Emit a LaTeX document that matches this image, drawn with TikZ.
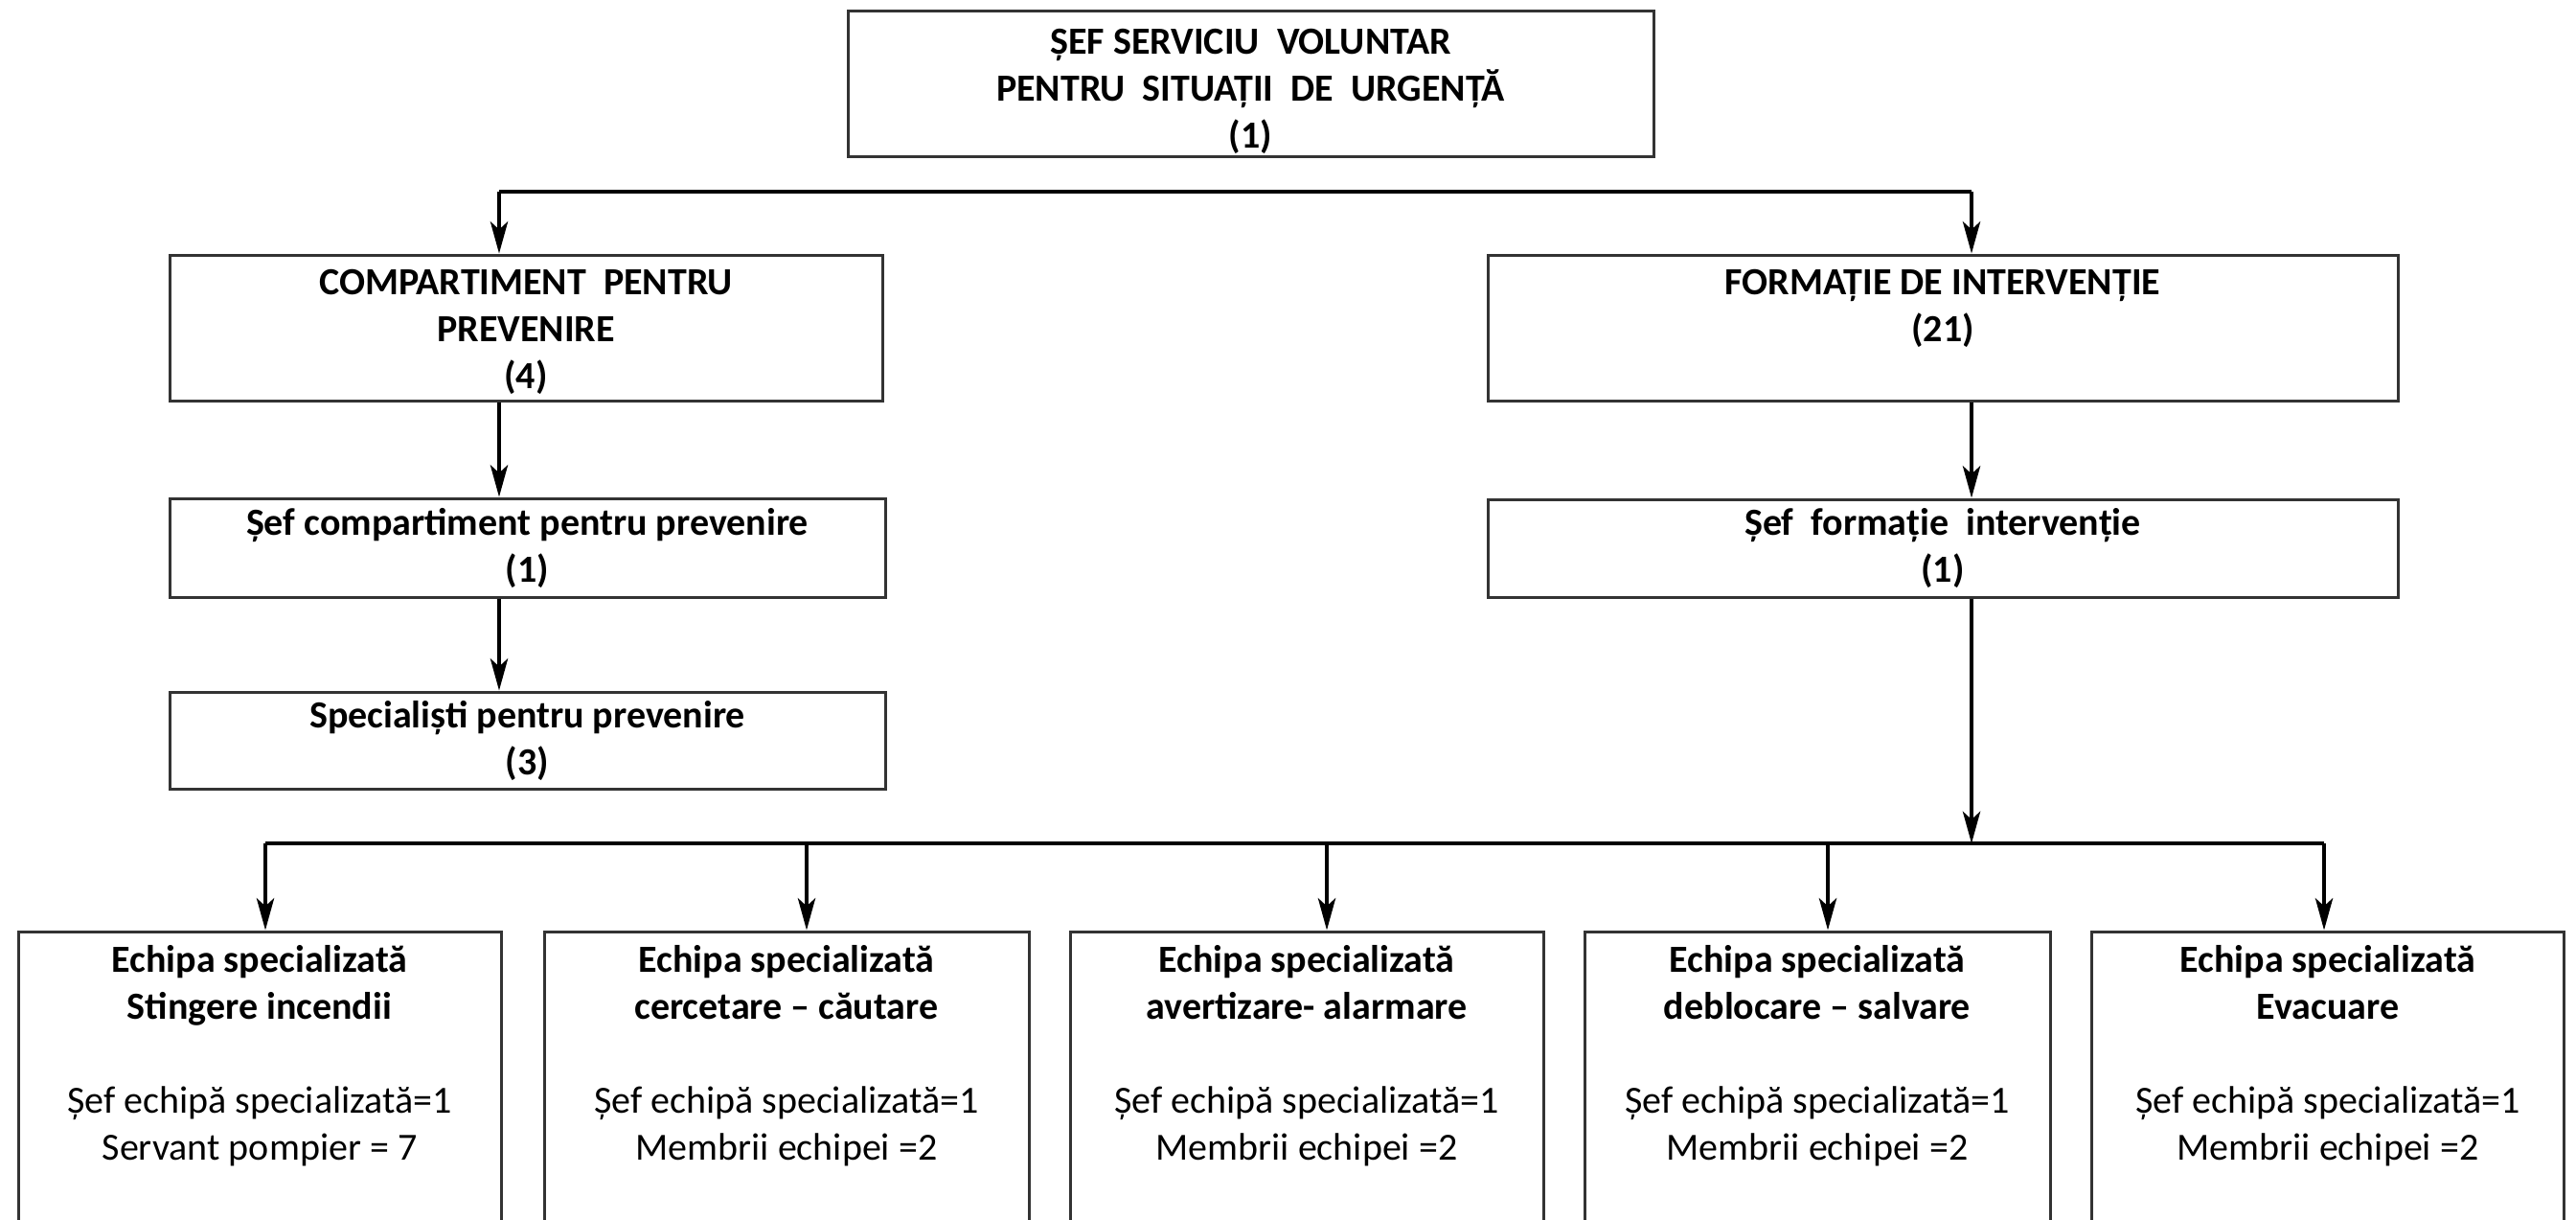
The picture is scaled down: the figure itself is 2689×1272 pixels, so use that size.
\documentclass[tikz,border=0pt]{standalone}
\usepackage{fontspec}
\setmainfont{Carlito}
\usetikzlibrary{arrows.meta,fit}
\begin{document}
\begin{tikzpicture}[x=0.3pt,y=-0.3pt,
  box/.style={draw=black!80, line width=0.9pt, inner sep=0pt},
  lbl/.style={align=center, inner sep=0pt,
    font=\fontsize{12pt}{14.7pt}\selectfont\bfseries},
  teamtxt/.style={align=center, inner sep=0pt, font=\fontsize{12pt}{14.7pt}\selectfont},
  conn/.style={line width=1pt, black},
  arr/.style={conn, -{Stealth[length=10pt,width=5.5pt,inset=2.5pt]}}]
\useasboundingbox (0,0) rectangle (2689,1272);
\fill[white] (0,0) rectangle (2689,1272);

% top
\node[box, fit={(885,11)(1726,163)}] (sef) {};
\node[lbl] (sefT) at ([yshift=-2.4pt]sef.center) {ȘEF SERVICIU\ \ VOLUNTAR\\PENTRU\ \ SITUAȚII\ \ DE\ \ URGENȚĂ\\(1)};

% left column
\node[box, fit={(177,266)(921,418)}] (comp) {};
\node[lbl] (compT) at ([yshift=-1.2pt]comp.center) {COMPARTIMENT\ \ PENTRU\\PREVENIRE\\(4)};
\node[box, fit={(177,520)(924,623)}] (sefc) {};
\node[lbl] (sefcT) at (sefc.center) {Șef compartiment pentru prevenire\\(1)};
\node[box, fit={(177,722)(924,823)}] (spec) {};
\node[lbl] (specT) at (spec.center) {Specialiști pentru prevenire\\(3)};

% right column
\node[box, fit={(1553,266)(2503,418)}] (form) {};
\node[lbl] (formT) at ([yshift=6pt]form.center) {FORMAȚIE DE INTERVENȚIE\\(21)};
\node[box, fit={(1553,521)(2503,623)}] (seff) {};
\node[lbl] (seffT) at (seff.center) {Șef\ \ formație\ \ intervenție\\(1)};

% bottom row
\node[box, fit={(19,972)(523,1300)}] (e1) {};
\node[box, fit={(568,972)(1074,1300)}] (e2) {};
\node[box, fit={(1117,972)(1611,1300)}] (e3) {};
\node[box, fit={(1654,972)(2140,1300)}] (e4) {};
\node[box, fit={(2183,972)(2676,1300)}] (e5) {};

\node[teamtxt] (e1t) at (271,1102) {\textbf{Echipa specializată}\\\textbf{Stingere incendii}\\[14.7pt]Șef echipă specializată=1\\Servant pompier = 7};
\node[teamtxt] (e2t) at (821,1102) {\textbf{Echipa specializată}\\\textbf{cercetare – căutare}\\[14.7pt]Șef echipă specializată=1\\Membrii echipei =2};
\node[teamtxt] (e3t) at (1364,1102) {\textbf{Echipa specializată}\\\textbf{avertizare- alarmare}\\[14.7pt]Șef echipă specializată=1\\Membrii echipei =2};
\node[teamtxt] (e4t) at (1897,1102) {\textbf{Echipa specializată}\\\textbf{deblocare – salvare}\\[14.7pt]Șef echipă specializată=1\\Membrii echipei =2};
\node[teamtxt] (e5t) at (2430,1102) {\textbf{Echipa specializată}\\\textbf{Evacuare}\\[14.7pt]Șef echipă specializată=1\\Membrii echipei =2};

% connectors
\coordinate (tl) at (521,200);
\coordinate (tr) at (2058,200);
\draw[conn] (tl) -- (tr);
\draw[arr] (tl) -- (tl |- comp.north);
\draw[arr] (tr) -- (tr |- form.north);
\draw[arr] (comp.south -| tl) -- (sefc.north -| tl);
\draw[arr] (sefc.south -| tl) -- (spec.north -| tl);
\draw[arr] (form.south -| tr) -- (seff.north -| tr);

\coordinate (b1) at (277,880);
\coordinate (b2) at (842,880);
\coordinate (b3) at (1385,880);
\coordinate (bm) at (2058,880);
\coordinate (b4) at (1908,880);
\coordinate (b5) at (2426,880);
\draw[conn] (b1) -- (b5);
\draw[arr] (seff.south -| bm) -- (bm);
\draw[arr] (b1) -- (b1 |- e1.north);
\draw[arr] (b2) -- (b2 |- e2.north);
\draw[arr] (b3) -- (b3 |- e3.north);
\draw[arr] (b4) -- (b4 |- e4.north);
\draw[arr] (b5) -- (b5 |- e5.north);
\end{tikzpicture}
\end{document}
